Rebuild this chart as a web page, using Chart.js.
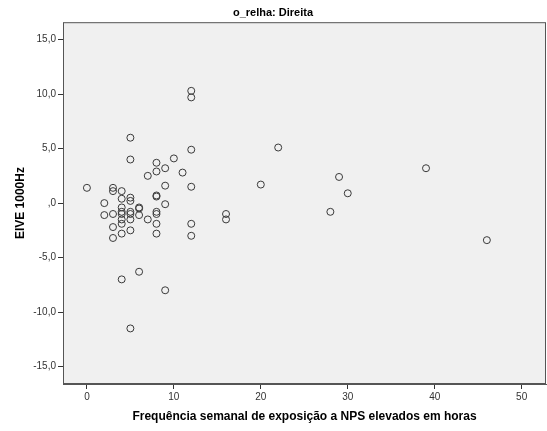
<!DOCTYPE html>
<html>
<head>
<meta charset="utf-8">
<script src="https://cdn.jsdelivr.net/npm/chart.js@4/dist/chart.umd.min.js"></script>
<style>
  html, body { margin: 0; padding: 0; background: #fff; }
  #box { width: 547px; height: 431px; }
</style>
</head>
<body>
<div id="box"><canvas id="grafico"></canvas></div>
<script>
// horas semanais de exposição (eixo x) e EIVE 1000Hz (eixo y)
const horas = [0, 2, 2, 3, 3, 3, 3, 3, 4, 4, 4, 4, 4, 4, 4, 4, 4,
  5, 5, 5, 5, 5, 5, 5, 5, 5, 6, 6, 6, 6, 7, 7,
  8, 8, 8, 8, 8, 8, 8, 8, 9, 9, 9, 9, 10, 11,
  12, 12, 12, 12, 12, 12, 16, 16, 20, 22, 28, 29, 30, 39, 46];
const eive = [1.4, 0.0, -1.1, 1.4, 1.1, -1.0, -2.2, -3.2, 1.1, 0.4, -0.4, -0.8, -1.0, -1.5, -1.9, -2.8, -7.0,
  6.0, 4.0, 0.5, 0.2, -0.8, -1.0, -1.5, -2.5, -11.5, -0.4, -0.5, -1.1, -6.3, 2.5, -1.5,
  3.7, 2.9, 0.7, 0.6, -0.8, -1.0, -1.9, -2.8, 3.2, 1.6, -0.1, -8.0, 4.1, 2.8,
  10.3, 9.7, 4.9, 1.5, -1.9, -3.0, -1.0, -1.5, 1.7, 5.1, -0.8, 2.4, 0.9, 3.2, -3.4];

const xTicks = [0, 10, 20, 30, 40, 50];
const yTicks = [-15, -10, -5, 0, 5, 10, 15];

const pontos = horas.map((h, i) => ({ x: h, y: eive[i] }));

function rotuloY(v) {
  // estilo SPSS: ",0" para zero, vírgula decimal
  let s = Math.abs(v).toFixed(1).replace('.', ',');
  if (s.startsWith('0')) s = s.substring(1);
  return (v < 0 ? '-' : '') + s;
}

const fundoPlot = {
  id: 'fundoPlot',
  beforeDatasetsDraw(chart) {
    const a = chart.chartArea;
    const ctx = chart.ctx;
    ctx.save();
    ctx.fillStyle = '#f0f0f0';
    ctx.fillRect(a.left, a.top, a.right - a.left, a.bottom - a.top);
    ctx.strokeStyle = '#555';
    ctx.lineWidth = 1;
    ctx.strokeRect(a.left + 0.5, a.top + 0.5, a.right - a.left - 1, a.bottom - a.top - 1);
    ctx.restore();
  }
};

Chart.defaults.font.family = '"Liberation Sans", Arial, sans-serif';

new Chart(document.getElementById('grafico').getContext('2d'), {
  type: 'scatter',
  data: {
    datasets: [{
      label: 'EIVE 1000Hz',
      data: pontos,
      pointStyle: 'circle',
      pointRadius: 3.5,
      pointBorderWidth: 1,
      borderColor: '#3a3a3a',
      backgroundColor: 'rgba(0,0,0,0)'
    }]
  },
  options: {
    responsive: true,
    maintainAspectRatio: false,
    animation: false,
    layout: { autoPadding: false, padding: { left: 0, right: 1, top: 0, bottom: 0 } },
    plugins: {
      legend: { display: false },
      tooltip: { enabled: false },
      title: {
        display: true,
        text: 'o_relha: Direita',
        color: '#000',
        font: { size: 11, weight: 'bold' },
        padding: { top: 6, bottom: 3 }
      }
    },
    scales: {
      x: {
        type: 'linear',
        position: 'bottom',
        min: -2.75,
        max: 52.8,
        afterBuildTicks: s => { s.ticks = xTicks.map(v => ({ value: v })); },
        afterFit: s => { s.height = 47; s.paddingLeft = 0; s.paddingRight = 0; },
        grid: { drawOnChartArea: false, drawTicks: true, tickLength: 5, tickColor: '#333' },
        border: { display: true, color: '#555' },
        ticks: { color: '#333', font: { size: 10 }, padding: 2, maxRotation: 0 },
        title: {
          display: true,
          text: 'Frequência semanal de exposição a NPS elevados em horas',
          color: '#000',
          font: { size: 12, weight: 'bold' },
          padding: { top: 0, bottom: 7 }
        }
      },
      y: {
        type: 'linear',
        position: 'left',
        min: -16.6,
        max: 16.6,
        afterBuildTicks: s => { s.ticks = yTicks.map(v => ({ value: v })); },
        afterFit: s => { s.width = 63; s.paddingTop = 0; s.paddingBottom = 0; },
        grid: { drawOnChartArea: false, drawTicks: true, tickLength: 5, tickColor: '#333' },
        border: { display: true, color: '#555' },
        ticks: { color: '#333', font: { size: 10 }, padding: 2, callback: v => rotuloY(v) },
        title: {
          display: true,
          text: 'EIVE 1000Hz',
          color: '#000',
          font: { size: 12, weight: 'bold' },
          padding: { top: 13, bottom: 0 }
        }
      }
    }
  },
  plugins: [fundoPlot]
});
</script>
</body>
</html>
